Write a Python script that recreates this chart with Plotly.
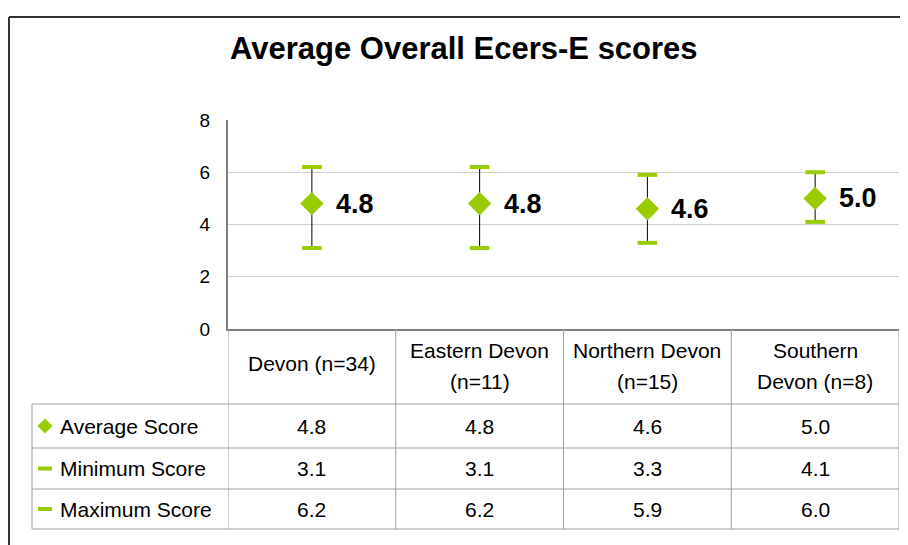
import plotly.graph_objects as go

categories = ["Devon (n=34)", "Eastern Devon (n=11)", "Northern Devon (n=15)", "Southern Devon (n=8)"]
header_labels = ["Devon (n=34)", "Eastern Devon<br>(n=11)", "Northern Devon<br>(n=15)", "Southern<br>Devon (n=8)"]
average_score = [4.8, 4.8, 4.6, 5.0]
minimum_score = [3.1, 3.1, 3.3, 4.1]
maximum_score = [6.2, 6.2, 5.9, 6.0]
row_names = ["Average Score", "Minimum Score", "Maximum Score"]
y_ticks = [0, 2, 4, 6, 8]

OFF = 8                                  # page body margin of the html page
W, H = 908 - OFF, 545 - OFF
PL, PR, PT, PB = 228, 899, 120, 329      # plot area in screen pixels
GREEN = "#99CC00"
TABLE_LINE = "#A0A0A0"
FONT = "Liberation Sans, Arial, sans-serif"


def px(x):
    return (x - PL) / (PR - PL)


def py(y):
    return (PB - y) / (PB - PT)


fig = go.Figure()

# average with the min-max whisker
fig.add_trace(go.Scatter(
    x=categories, y=average_score, mode="markers", name=row_names[0],
    marker=dict(symbol="diamond", size=18, color=GREEN),
    error_y=dict(type="data", symmetric=False,
                 array=[mx - a for mx, a in zip(maximum_score, average_score)],
                 arrayminus=[a - mn for a, mn in zip(average_score, minimum_score)],
                 color="black", thickness=1, width=0),
))
# min / max caps
for vals, name in [(minimum_score, row_names[1]), (maximum_score, row_names[2])]:
    fig.add_trace(go.Scatter(
        x=categories, y=vals, mode="markers", name=name,
        marker=dict(symbol="line-ew", size=14, color=GREEN, line=dict(color=GREEN, width=4)),
    ))

annotations = []
# data labels
for c, a in zip(categories, average_score):
    annotations.append(dict(x=c, y=a, xref="x", yref="y", text=f"{a:.1f}", showarrow=False,
                            xanchor="left", yanchor="middle", xshift=22,
                            font=dict(family=FONT, size=27, color="black", weight="bold")))

# data table: header row (lines placed one by one for Excel-like spacing)
for c, lab in zip(categories, header_labels):
    lines = lab.split("<br>")
    if len(lines) == 1:
        ys = [363]
    else:
        ys = [350, 381]
    for txt, yl in zip(lines, ys):
        annotations.append(dict(x=c, y=py(yl), xref="x", yref="paper", text=txt, showarrow=False,
                                xanchor="center", yanchor="middle",
                                font=dict(family=FONT, size=21, color="black")))

row_mid = [426, 468.5, 509]
row_lines = [404, 448, 489, 529]
for vals, ym in zip([average_score, minimum_score, maximum_score], row_mid):
    for c, v in zip(categories, vals):
        annotations.append(dict(x=c, y=py(ym), xref="x", yref="paper", text=f"{v:.1f}", showarrow=False,
                                xanchor="center", yanchor="middle",
                                font=dict(family=FONT, size=21, color="black")))
for name, ym in zip(row_names, row_mid):
    annotations.append(dict(x=px(58), y=py(ym), xref="paper", yref="paper", text=name, showarrow=False,
                            xanchor="left", yanchor="middle",
                            font=dict(family=FONT, size=21, color="black")))

# title
annotations.append(dict(x=px(464), y=py(48), xref="paper", yref="paper",
                        text="Average Overall Ecers-E scores", showarrow=False,
                        xanchor="center", yanchor="middle",
                        font=dict(family=FONT, size=31, color="black", weight="bold")))

shapes = []
# table horizontal lines
for yl in row_lines:
    shapes.append(dict(type="line", xref="paper", yref="paper", x0=px(32), x1=1, y0=py(yl), y1=py(yl),
                       line=dict(color=TABLE_LINE, width=1)))
# table vertical lines
shapes.append(dict(type="line", xref="paper", yref="paper", x0=px(32), x1=px(32), y0=py(404), y1=py(529),
                   line=dict(color=TABLE_LINE, width=1)))
for i in range(len(categories) + 1):
    shapes.append(dict(type="line", xref="x", yref="paper", x0=i - 0.5, x1=i - 0.5, y0=0, y1=py(529),
                       line=dict(color=TABLE_LINE, width=1)))
# legend keys in the table
cx, cy = 45, row_mid[0]
shapes.append(dict(type="path", xref="paper", yref="paper", fillcolor=GREEN, line=dict(width=0),
                   path=f"M {px(cx - 7.5)},{py(cy)} L {px(cx)},{py(cy - 7.5)} L {px(cx + 7.5)},{py(cy)} "
                        f"L {px(cx)},{py(cy + 7.5)} Z"))
for ym in row_mid[1:]:
    shapes.append(dict(type="rect", xref="paper", yref="paper", fillcolor=GREEN, line=dict(width=0),
                       x0=px(38), x1=px(52), y0=py(ym - 2), y1=py(ym + 2)))
# outer chart frame
shapes.append(dict(type="line", xref="paper", yref="paper", x0=px(9), x1=px(920), y0=py(17), y1=py(17),
                   line=dict(color="#333333", width=2)))
shapes.append(dict(type="line", xref="paper", yref="paper", x0=px(9), x1=px(9), y0=py(17), y1=py(560),
                   line=dict(color="#333333", width=2)))

fig.update_layout(
    width=W, height=H,
    margin=dict(l=PL - OFF, r=908 - PR, t=PT - OFF, b=545 - PB),
    paper_bgcolor="white", plot_bgcolor="white",
    showlegend=False, hovermode=False,
    font=dict(family=FONT, color="black"),
    annotations=annotations, shapes=shapes,
)
fig.update_xaxes(type="category", categoryarray=categories, range=[-0.5, len(categories) - 0.5],
                 showticklabels=False, showgrid=False, zeroline=False,
                 showline=True, linecolor="#808080", linewidth=2)
fig.update_yaxes(range=[0, 8], tickvals=y_ticks, showgrid=True, gridcolor="#D0D0D0", gridwidth=1,
                 zeroline=False, showline=True, linecolor="#808080", linewidth=2,
                 ticks="", ticklabelstandoff=12, tickfont=dict(family=FONT, size=19, color="black"))

fig.write_html("out.html")
